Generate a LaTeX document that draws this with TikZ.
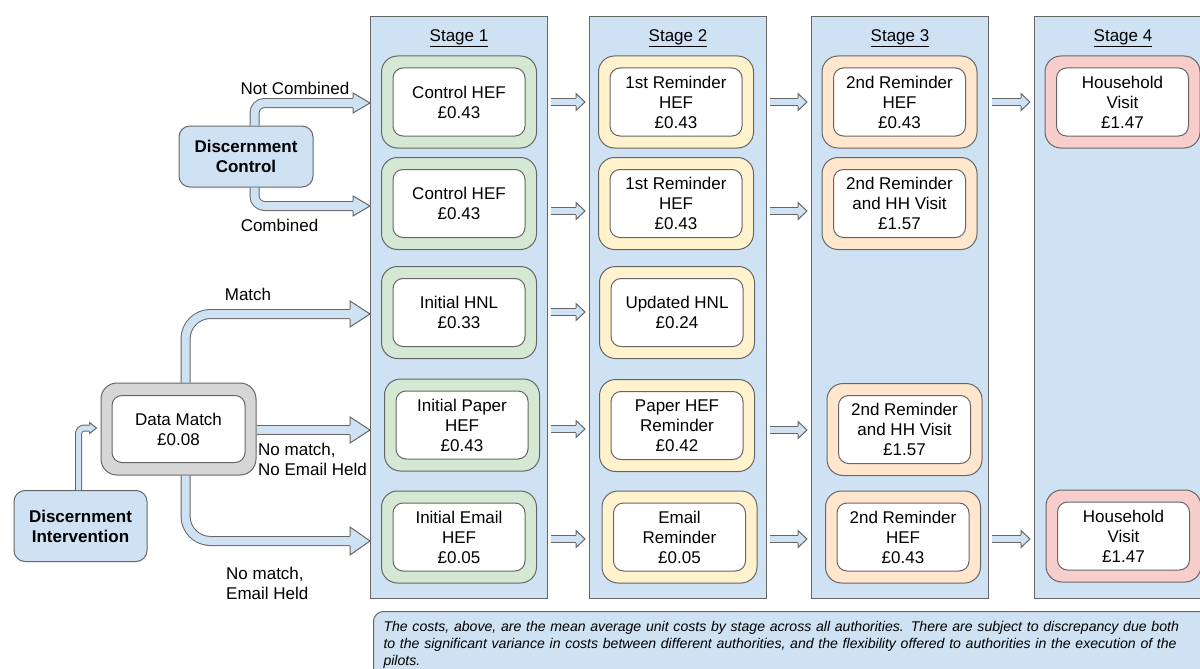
\documentclass[tikz,border=0pt]{standalone}
\usepackage{fontspec}
\setmainfont{Liberation Sans}
\usetikzlibrary{calc,positioning}

\definecolor{stageblue}{RGB}{207,226,243}
\definecolor{edgegray}{RGB}{102,102,102}
\definecolor{bandgreen}{RGB}{213,232,212}
\definecolor{bandyellow}{RGB}{255,242,204}
\definecolor{bandorange}{RGB}{255,230,204}
\definecolor{bandpink}{RGB}{248,206,204}
\definecolor{bandgray}{RGB}{214,214,214}

% head of a flat block arrow: tip, shaft width, head width, head length
\newcommand{\pipetip}[4]{%
  \fill[stageblue] (#1) -- ++(-#4,#3/2) -- ++(0,-#3) -- cycle;
  \draw[pipeedge] ($(#1)+(-#4,#2/2)$) -- ++(0,#3/2-#2/2) -- (#1) -- ++(-#4,-#3/2) -- ++(0,#3/2-#2/2);
}

\tikzset{
  stagecol/.style={draw=edgegray,fill=stageblue,line width=1pt,anchor=north west,
    minimum width=177pt,minimum height=582pt,inner sep=0pt},
  bandbox/.style={draw=edgegray,line width=1pt,rounded corners=16pt,
    minimum width=155pt,minimum height=92pt,inner sep=0pt},
  textbox/.style={draw=edgegray,fill=white,line width=1pt,rounded corners=10pt,
    minimum width=132pt,minimum height=68pt,inner sep=2pt,align=center},
  startbox/.style={draw=edgegray,fill=stageblue,line width=1pt,rounded corners=11pt,
    inner sep=2pt,align=center,font=\fontsize{17}{20}\selectfont\bfseries},
  notebox/.style={draw=edgegray,fill=stageblue,line width=1pt,rounded corners=10pt,
    anchor=north west,align=left,inner xsep=10pt,inner ysep=10pt,text width=840pt,
    font=\fontsize{14.1}{17}\selectfont\itshape},
  pipe/.style={draw=edgegray,line width=1pt,double=stageblue,double distance=#1},
  pipeedge/.style={draw=edgegray,line width=1pt,line join=miter},
  tag/.style={inner sep=0pt,align=left}
}

\begin{document}
\begin{tikzpicture}[x=1pt,y=-1pt,font=\fontsize{17}{20}\selectfont]
\useasboundingbox (0,0) rectangle (1200,669);
\clip (0,0) rectangle (1200,669);

% stages
\node[stagecol] (st1) at (370,16) {};
\node[stagecol] (st2) at (589,16) {};
\node[stagecol] (st3) at (811,16) {};
\node[stagecol] (st4) at (1034,16) {};
\foreach \i in {1,...,4}{\node[inner sep=0pt,below=13pt of st\i.north] (t\i) {\underline{Stage \i}};}

% stage to stage arrows
\foreach \a/\b/\y in {1/2/102,2/3/102,3/4/102,1/2/211,2/3/211,1/2/312,1/2/429,2/3/430,1/2/539,2/3/539,3/4/539}{
  \coordinate (ry) at (0,\y);
  \coordinate (p) at ($(st\a.east |- ry)+(3,0)$);
  \coordinate (q) at ($(st\b.west |- ry)+(-4,0)$);
  \draw[pipe=6pt] (p) -- ($(q)+(-8,0)$);
  \pipetip{q}{8}{17}{9}
}

% cost boxes
\foreach \n/\x/\y/\c/\t in {
  s1r1/459/102/bandgreen/{Control HEF\\£0.43},
  s1r2/459/203.5/bandgreen/{Control HEF\\£0.43},
  s1r3/459/312.5/bandgreen/{Initial HNL\\£0.33},
  s1r4/462/425/bandgreen/{Initial Paper\\HEF\\£0.43},
  s1r5/459/537/bandgreen/{Initial Email\\HEF\\£0.05},
  s2r1/676/102/bandyellow/{1st Reminder\\HEF\\£0.43},
  s2r2/676/203.5/bandyellow/{1st Reminder\\HEF\\£0.43},
  s2r3/677/312.5/bandyellow/{Updated HNL\\£0.24},
  s2r4/677/425.5/bandyellow/{Paper HEF\\Reminder\\£0.42},
  s2r5/679.5/537/bandyellow/{Email\\Reminder\\£0.05},
  s3r1/899.5/102/bandorange/{2nd Reminder\\HEF\\£0.43},
  s3r2/899.5/203.5/bandorange/{2nd Reminder\\and HH Visit\\£1.57},
  s3r4/904.5/429.5/bandorange/{2nd Reminder\\and HH Visit\\£1.57},
  s3r5/903/537/bandorange/{2nd Reminder\\HEF\\£0.43},
  s4r1/1122.5/102/bandpink/{Household\\Visit\\£1.47},
  s4r5/1123.5/536/bandpink/{Household\\Visit\\£1.47}}{
  \node[bandbox,fill=\c] (\n-o) at (\x,\y) {};
  \node[textbox] (\n) at (\n-o) {\t};
}

% start boxes
\node[startbox,minimum width=134pt,minimum height=61pt] (dc) at (246,156.5) {Discernment\\Control};
\node[startbox,minimum width=133pt,minimum height=71pt] (di) at (80.5,526) {Discernment\\Intervention};
\node[bandbox,fill=bandgray] (dm-o) at (178.5,429) {};
\node[textbox,minimum width=133pt,minimum height=67pt] (dm) at (dm-o) {Data Match\\£0.08};

% tips on stage 1
\coordinate (tipnc) at ($(st1.north west)+(0,87)$);
\coordinate (tipc) at ($(st1.north west)+(0,190)$);
\coordinate (tipm) at ($(st1.north west)+(0,298)$);
\coordinate (tipnm) at ($(st1.north west)+(0,414)$);
\coordinate (tipne) at ($(st1.north west)+(0,525)$);
\coordinate (tipdi) at ($(dm-o.west)+(-4,-1)$);

% branches
\draw[pipe=8pt,rounded corners=10pt] ($(dc.north)+(8.5,0)$) |- ($(tipnc)+(-16,0)$);
\pipetip{tipnc}{10}{20}{17}
\draw[pipe=8pt,rounded corners=10pt] ($(dc.south)+(8.5,0)$) |- ($(tipc)+(-16,0)$);
\pipetip{tipc}{10}{20}{17}
\draw[pipe=8pt,rounded corners=25pt] ($(dm-o.north)+(7,0)$) |- ($(tipm)+(-19,0)$);
\pipetip{tipm}{10}{26}{20}
\draw[pipe=8pt] (dm-o.east |- tipnm) -- ($(tipnm)+(-19,0)$);
\pipetip{tipnm}{10}{26}{20}
\draw[pipe=8pt,rounded corners=25pt] ($(dm-o.south)+(7,0)$) |- ($(tipne)+(-19,0)$);
\pipetip{tipne}{10}{28}{20}
\draw[pipe=5pt,rounded corners=6pt] ($(di.north)+(-2,0)$) |- ($(tipdi)+(-6,0)$);
\pipetip{tipdi}{7}{11}{7}

% branch labels
\node[tag] (lnc) at (295,88) {Not Combined};
\node[tag] (lc) at (279.5,225) {Combined};
\node[tag] (lm) at (248,294) {Match};
\node[tag,anchor=west] (lnm) at (258,459) {No match,\\No Email Held};
\node[tag,anchor=west] (lne) at (226,583) {No match,\\Email Held};

% note
\node[notebox] (note) at (373,611) {The costs, above, are the mean average unit costs by stage across all authorities. There are subject to discrepancy due both\\to the significant variance in costs between different authorities, and the flexibility offered to authorities in the execution of the\\pilots.};
\end{tikzpicture}
\end{document}
